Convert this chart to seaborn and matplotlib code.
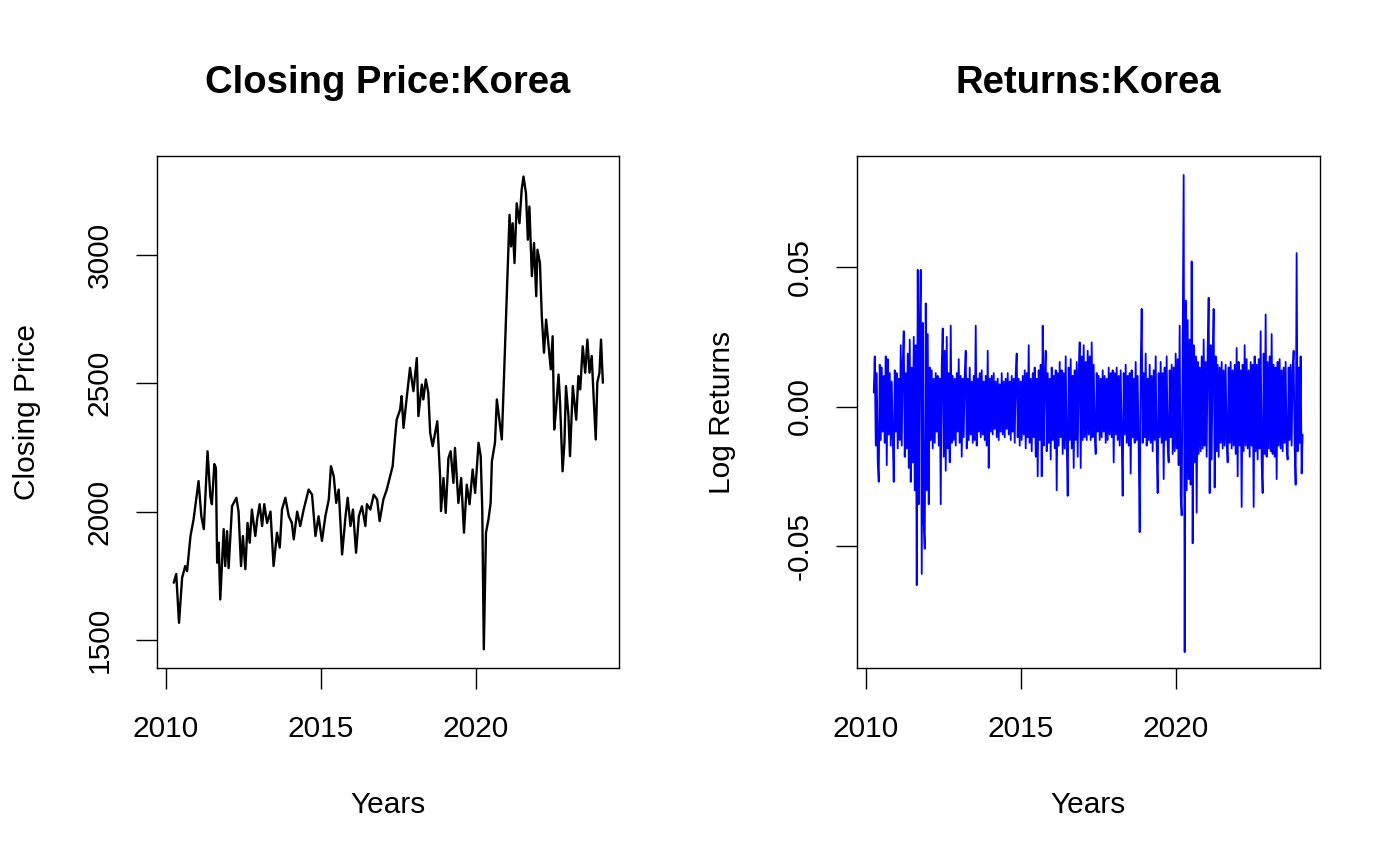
import numpy as np
import pandas as pd
import seaborn as sns
import matplotlib
matplotlib.use("Agg")
import matplotlib.pyplot as plt
from matplotlib.ticker import FixedLocator, FixedFormatter

# Closing price (KOSPI)
price_years = [
    2010.25, 2010.33, 2010.42, 2010.52, 2010.62, 2010.68, 2010.79, 2010.89, 2011.05, 2011.14,
    2011.22, 2011.34, 2011.43, 2011.48, 2011.56, 2011.61, 2011.65, 2011.70, 2011.75, 2011.86,
    2011.91, 2011.97, 2012.02, 2012.13, 2012.27, 2012.34, 2012.42, 2012.48, 2012.56, 2012.63,
    2012.70, 2012.77, 2012.88, 2012.94, 2013.02, 2013.10, 2013.17, 2013.26, 2013.37, 2013.47,
    2013.58, 2013.67, 2013.74, 2013.85, 2013.96, 2014.06, 2014.12, 2014.23, 2014.33, 2014.44,
    2014.60, 2014.71, 2014.82, 2014.92, 2015.03, 2015.14, 2015.25, 2015.32, 2015.41, 2015.49,
    2015.57, 2015.68, 2015.79, 2015.86, 2015.95, 2016.03, 2016.13, 2016.22, 2016.32, 2016.43,
    2016.48, 2016.59, 2016.70, 2016.81, 2016.89, 2017.01, 2017.12, 2017.23, 2017.31, 2017.39,
    2017.44, 2017.55, 2017.60, 2017.66, 2017.74, 2017.87, 2017.98, 2018.09, 2018.14, 2018.25,
    2018.30, 2018.38, 2018.46, 2018.52, 2018.60, 2018.68, 2018.75, 2018.84, 2018.87, 2018.95,
    2019.02, 2019.11, 2019.18, 2019.27, 2019.32, 2019.43, 2019.52, 2019.61, 2019.70, 2019.79,
    2019.89, 2019.97, 2020.08, 2020.15, 2020.20, 2020.25, 2020.32, 2020.40, 2020.47, 2020.51,
    2020.61, 2020.67, 2020.75, 2020.83, 2020.88, 2020.96, 2021.02, 2021.08, 2021.13, 2021.18,
    2021.24, 2021.31, 2021.40, 2021.47, 2021.53, 2021.61, 2021.67, 2021.72, 2021.80, 2021.87,
    2021.94, 2021.98, 2022.06, 2022.12, 2022.19, 2022.26, 2022.33, 2022.41, 2022.47, 2022.52,
    2022.58, 2022.66, 2022.71, 2022.79, 2022.85, 2022.90, 2022.98, 2023.03, 2023.12, 2023.23,
    2023.30, 2023.36, 2023.44, 2023.52, 2023.59, 2023.66, 2023.73, 2023.79, 2023.86, 2023.91,
    2023.98, 2024.03, 2024.09,
]
price_values = [
    1723, 1757, 1567, 1742, 1788, 1768, 1905, 1970, 2119, 1982,
    1932, 2235, 2060, 2029, 2185, 2170, 1801, 1879, 1658, 1932,
    1788, 1924, 1780, 2021, 2054, 2000, 1788, 1905, 1776, 1956,
    1879, 2008, 1905, 1970, 2029, 1944, 2029, 1956, 2000, 1788,
    1918, 1860, 2008, 2054, 1982, 1956, 1892, 2000, 1944, 2008,
    2086, 2066, 1905, 1982, 1886, 1982, 2047, 2177, 2138, 2034,
    2086, 1833, 1982, 2054, 1944, 2008, 1840, 1982, 2021, 1944,
    2029, 2008, 2066, 2047, 1963, 2047, 2086, 2138, 2177, 2294,
    2358, 2397, 2450, 2326, 2417, 2560, 2469, 2598, 2372, 2495,
    2437, 2515, 2463, 2307, 2255, 2307, 2352, 2138, 2002, 2131,
    1995, 2209, 2235, 2112, 2248, 2034, 2131, 1918, 2105, 2029,
    2164, 2073, 2268, 2216, 2008, 1464, 1918, 1970, 2034, 2196,
    2268, 2437, 2358, 2281, 2450, 2735, 2955, 3156, 3033, 3123,
    2968, 3201, 3123, 3253, 3305, 3240, 3059, 3188, 2917, 3046,
    2839, 3020, 2968, 2761, 2619, 2748, 2657, 2554, 2683, 2320,
    2397, 2534, 2423, 2157, 2268, 2489, 2372, 2216, 2489, 2358,
    2528, 2476, 2644, 2541, 2670, 2541, 2606, 2450, 2281, 2502,
    2541, 2670, 2502,
]

# Log returns in thousandths, one value per screen column
returns_permille = [
    5, 18, -14, 12, -20, -27, 15, -12, 14, -9,
    11, -13, 18, -21, 17, -10, 12, -14, 9, -11,
    -27, 13, -9, 12, -15, 10, -12, 22, -14, 16,
    27, -18, 12, -15, 19, -22, 24, -27, 14, -20,
    25, -30, 22, -64, 49, -35, 28, 49, -60, 30,
    -42, -51, 37, -30, 26, -35, 14, -12, 13, -15,
    10, -13, 12, -9, 11, -14, 10, -35, 15, 28,
    -18, 20, -23, 25, -15, 12, -20, 29, -13, 11,
    -12, 10, -14, 12, -9, 17, -13, 11, -18, 10,
    -11, 12, 20, -15, 10, -12, 14, -10, 9, -13,
    11, -12, 29, -14, 10, -9, 12, -11, 13, -10,
    9, -12, 11, -14, 20, -22, 10, -9, 11, -10,
    12, -8, 9, -11, 10, -12, 8, -9, 12, -10,
    9, -11, 10, -8, 12, -10, 9, -12, 11, -9,
    10, -13, 12, 19, -11, 10, -14, 9, -12, 11,
    -10, 13, -15, 12, -11, 22, -13, 10, -16, 12,
    -11, 14, -18, 10, -25, 13, -12, 15, -25, 29,
    -14, 11, 20, -16, 12, -13, 10, -19, 14, -12,
    11, -15, 13, -30, 12, -14, 16, -11, 13, -17,
    12, -15, 18, -13, -32, 14, -12, 17, -15, 11,
    -22, 13, -12, 16, -18, 12, 23, -22, 18, -12,
    22, -11, 16, -12, 20, -10, 18, -12, 23, -11,
    15, -10, -17, 12, -9, 11, -12, 10, -11, 13,
    -9, 11, -13, 10, -12, 14, -10, 12, -11, 13,
    -20, 12, -10, 14, -12, 11, -14, 13, -11, -32,
    12, -10, 15, -13, 11, -14, 12, -24, 13, -11,
    10, -13, 16, -12, 11, -15, -45, 14, 35, -13,
    12, -11, 19, -14, 10, -12, 15, -13, 11, -16,
    13, -12, 18, -15, -31, 12, -11, 16, -13, 12,
    -26, 14, -12, 18, -14, -20, 13, -11, 15, -17,
    14, -16, 19, -15, 17, -21, 29, -32, -39, 22,
    83, -88, 38, -30, 31, -26, 24, -28, 52, -49,
    22, -20, 18, -38, 16, -17, 14, -16, 18, -15,
    24, -14, 16, -18, 20, 39, -31, 22, -19, 17,
    35, -29, 18, -16, 15, -18, 14, -13, 16, -15,
    13, -14, 15, -12, -20, 14, -13, 16, -15, 13,
    -14, 15, -17, 21, -25, 16, -14, 13, -36, 15,
    -16, 22, -14, 17, -15, 13, -18, 16, -14, 15,
    -36, 18, -16, 15, -19, 17, -15, 27, -20, -31,
    19, -17, 33, -18, 16, -15, 18, -16, 26, -17,
    15, -18, 14, -26, 16, -14, 17, -15, 13, -16,
    14, -13, 16, -15, -19, 14, -12, 15, -14, 13,
    20, -15, -28, 55, -16, 14, -13, 18, -24, -10,
]
returns_start, returns_end = 2010.25, 2024.08

year_ticks = [2010, 2015, 2020]
price_ticks = [1500, 2000, 2500, 3000]
return_ticks = [-0.05, 0.0, 0.05]
return_tick_labels = ["-0.05", "0.00", "0.05"]

price_df = pd.DataFrame({"Years": price_years, "Close": price_values})
ret_df = pd.DataFrame({
    "Years": np.linspace(returns_start, returns_end, len(returns_permille)),
    "Returns": np.array(returns_permille) / 1000.0,
})

sns.set_style("ticks")
plt.rcParams["font.family"] = ["Liberation Sans", "DejaVu Sans"]
plt.rcParams["axes.linewidth"] = 1.0
plt.rcParams["text.color"] = "black"
plt.rcParams["axes.labelcolor"] = "black"

fig = plt.figure(figsize=(14, 8.65), dpi=100)
ax1 = fig.add_axes([157 / 1400, 1 - 668 / 865, 462 / 1400, 512 / 865])
ax2 = fig.add_axes([857 / 1400, 1 - 668 / 865, 463 / 1400, 512 / 865])

sns.lineplot(data=price_df, x="Years", y="Close", ax=ax1, color="black",
             linewidth=1.7, estimator=None, sort=False)
sns.lineplot(data=ret_df, x="Years", y="Returns", ax=ax2, color="#0000ff",
             linewidth=1.3, estimator=None, sort=False)

ax1.set_xlim(2009.71, 2024.61)
ax1.set_ylim(1391, 3385)
ax2.set_xlim(2009.71, 2024.64)
ax2.set_ylim(-0.0937, 0.0898)

ax1.yaxis.set_major_locator(FixedLocator(price_ticks))
ax1.yaxis.set_major_formatter(FixedFormatter([str(t) for t in price_ticks]))
ax2.yaxis.set_major_locator(FixedLocator(return_ticks))
ax2.yaxis.set_major_formatter(FixedFormatter(return_tick_labels))

setup = [
    (ax1, "Closing Price:Korea", "Closing Price", -0.282),
    (ax2, "Returns:Korea", "Log Returns", -0.292),
]
for ax, title, ylab, ylab_x in setup:
    ax.xaxis.set_major_locator(FixedLocator(year_ticks))
    ax.xaxis.set_major_formatter(FixedFormatter([str(t) for t in year_ticks]))
    for side in ["top", "right", "left", "bottom"]:
        ax.spines[side].set_visible(True)
        ax.spines[side].set_color("black")
    ax.tick_params(axis="both", direction="out", length=15, width=1.0,
                   colors="black", labelsize=21.5)
    ax.tick_params(axis="x", pad=19)
    ax.tick_params(axis="y", pad=16)
    for lab in ax.get_yticklabels():
        lab.set_rotation(90)
        lab.set_va("center")
    ax.set_title(title, fontsize=27.5, fontweight="bold", y=1.126, va="center",
                 color="black")
    ax.set_xlabel("Years", fontsize=21.5)
    ax.xaxis.set_label_coords(0.5, -0.268)
    ax.xaxis.label.set_va("center")
    ax.set_ylabel(ylab, fontsize=21.5)
    ax.yaxis.set_label_coords(ylab_x, 0.5)
    ax.yaxis.label.set_va("center")
    ax.grid(False)

fig.savefig("out.png", dpi=100, facecolor="white")
